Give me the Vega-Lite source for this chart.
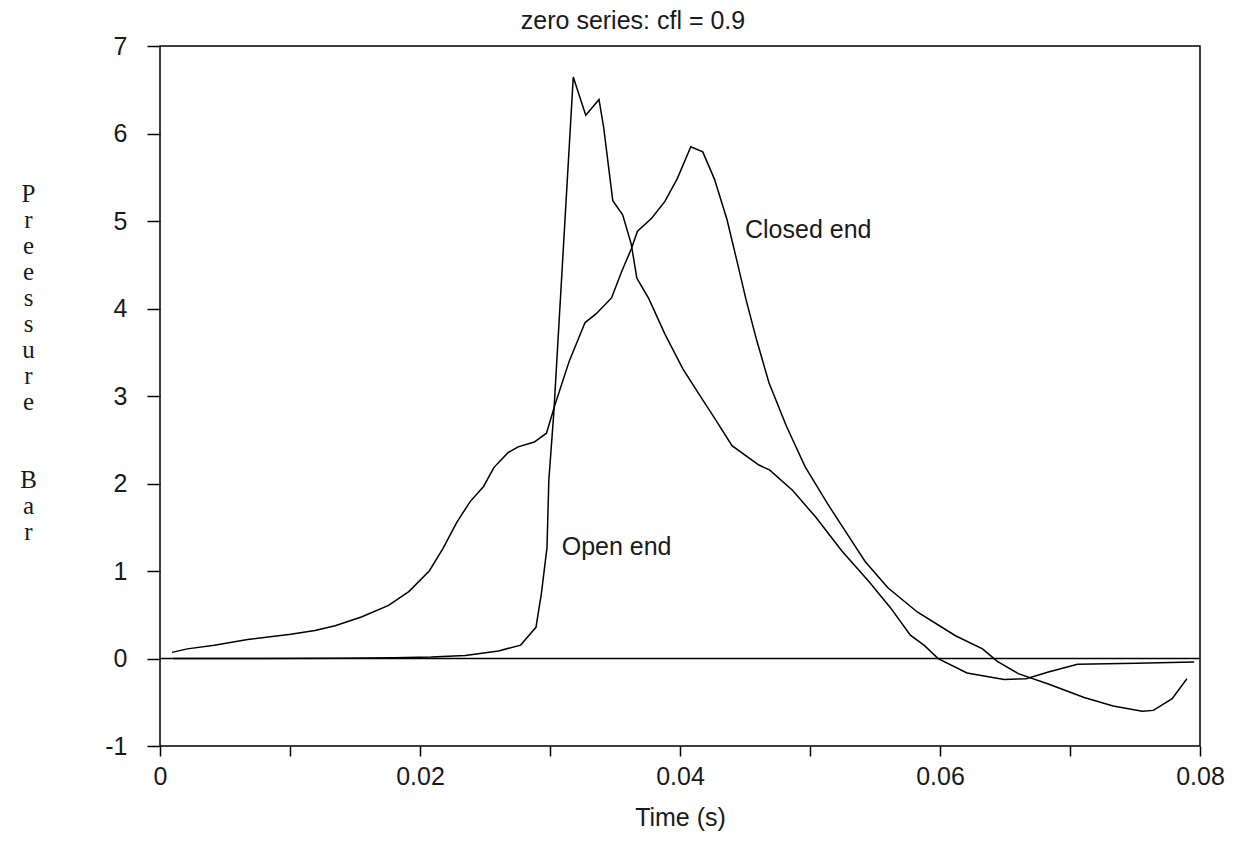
{
  "$schema": "https://vega.github.io/schema/vega-lite/v6.json",
  "width": 1040,
  "height": 700,
  "autosize": {"type": "none"},
  "padding": {"left": 160, "top": 46, "right": 47, "bottom": 97},
  "background": "white",
  "title": {
    "text": "zero series: cfl = 0.9",
    "font": "Liberation Sans",
    "fontSize": 25,
    "fontWeight": "normal",
    "color": "#1a1a1a",
    "anchor": "middle",
    "frame": "group",
    "dx": -47,
    "dy": 24,
    "baseline": "alphabetic",
    "offset": 4
  },
  "config": {
    "view": {"stroke": "black", "strokeWidth": 1.5},
    "font": "Liberation Sans"
  },
  "datasets": {
    "curves": [
      {"series": "Closed end", "t": 0.00093, "v": 0.070},
      {"series": "Closed end", "t": 0.00210, "v": 0.110},
      {"series": "Closed end", "t": 0.00418, "v": 0.152},
      {"series": "Closed end", "t": 0.00674, "v": 0.216},
      {"series": "Closed end", "t": 0.01006, "v": 0.278},
      {"series": "Closed end", "t": 0.01192, "v": 0.320},
      {"series": "Closed end", "t": 0.01347, "v": 0.375},
      {"series": "Closed end", "t": 0.01549, "v": 0.474},
      {"series": "Closed end", "t": 0.01758, "v": 0.607},
      {"series": "Closed end", "t": 0.01914, "v": 0.764},
      {"series": "Closed end", "t": 0.02071, "v": 1.001},
      {"series": "Closed end", "t": 0.02174, "v": 1.251},
      {"series": "Closed end", "t": 0.02284, "v": 1.558},
      {"series": "Closed end", "t": 0.02387, "v": 1.796},
      {"series": "Closed end", "t": 0.02489, "v": 1.966},
      {"series": "Closed end", "t": 0.02568, "v": 2.182},
      {"series": "Closed end", "t": 0.02677, "v": 2.352},
      {"series": "Closed end", "t": 0.02755, "v": 2.419},
      {"series": "Closed end", "t": 0.02879, "v": 2.474},
      {"series": "Closed end", "t": 0.02973, "v": 2.575},
      {"series": "Closed end", "t": 0.03037, "v": 2.894},
      {"series": "Closed end", "t": 0.03150, "v": 3.407},
      {"series": "Closed end", "t": 0.03270, "v": 3.839},
      {"series": "Closed end", "t": 0.03356, "v": 3.941},
      {"series": "Closed end", "t": 0.03473, "v": 4.121},
      {"series": "Closed end", "t": 0.03553, "v": 4.429},
      {"series": "Closed end", "t": 0.03625, "v": 4.679},
      {"series": "Closed end", "t": 0.03673, "v": 4.884},
      {"series": "Closed end", "t": 0.03782, "v": 5.031},
      {"series": "Closed end", "t": 0.03884, "v": 5.224},
      {"series": "Closed end", "t": 0.03979, "v": 5.485},
      {"series": "Closed end", "t": 0.04083, "v": 5.849},
      {"series": "Closed end", "t": 0.04175, "v": 5.790},
      {"series": "Closed end", "t": 0.04265, "v": 5.479},
      {"series": "Closed end", "t": 0.04361, "v": 5.020},
      {"series": "Closed end", "t": 0.04435, "v": 4.561},
      {"series": "Closed end", "t": 0.04508, "v": 4.101},
      {"series": "Closed end", "t": 0.04589, "v": 3.642},
      {"series": "Closed end", "t": 0.04685, "v": 3.148},
      {"series": "Closed end", "t": 0.04819, "v": 2.654},
      {"series": "Closed end", "t": 0.04962, "v": 2.193},
      {"series": "Closed end", "t": 0.05136, "v": 1.766},
      {"series": "Closed end", "t": 0.05303, "v": 1.385},
      {"series": "Closed end", "t": 0.05424, "v": 1.109},
      {"series": "Closed end", "t": 0.05599, "v": 0.808},
      {"series": "Closed end", "t": 0.05828, "v": 0.529},
      {"series": "Closed end", "t": 0.06119, "v": 0.260},
      {"series": "Closed end", "t": 0.06327, "v": 0.110},
      {"series": "Closed end", "t": 0.06441, "v": -0.032},
      {"series": "Closed end", "t": 0.06602, "v": -0.173},
      {"series": "Closed end", "t": 0.06833, "v": -0.292},
      {"series": "Closed end", "t": 0.07109, "v": -0.446},
      {"series": "Closed end", "t": 0.07332, "v": -0.542},
      {"series": "Closed end", "t": 0.07556, "v": -0.603},
      {"series": "Closed end", "t": 0.07641, "v": -0.593},
      {"series": "Closed end", "t": 0.07786, "v": -0.459},
      {"series": "Closed end", "t": 0.07899, "v": -0.232},
      {"series": "Open end", "t": 0.001, "v": 0.0},
      {"series": "Open end", "t": 0.008, "v": 0.0},
      {"series": "Open end", "t": 0.014, "v": 0.002},
      {"series": "Open end", "t": 0.018, "v": 0.008},
      {"series": "Open end", "t": 0.02086, "v": 0.017},
      {"series": "Open end", "t": 0.02348, "v": 0.035},
      {"series": "Open end", "t": 0.02604, "v": 0.087},
      {"series": "Open end", "t": 0.02774, "v": 0.153},
      {"series": "Open end", "t": 0.02892, "v": 0.356},
      {"series": "Open end", "t": 0.02934, "v": 0.745},
      {"series": "Open end", "t": 0.02977, "v": 1.270},
      {"series": "Open end", "t": 0.02991, "v": 2.037},
      {"series": "Open end", "t": 0.03029, "v": 2.802},
      {"series": "Open end", "t": 0.03179, "v": 6.645},
      {"series": "Open end", "t": 0.03275, "v": 6.208},
      {"series": "Open end", "t": 0.03377, "v": 6.389},
      {"series": "Open end", "t": 0.03413, "v": 6.068},
      {"series": "Open end", "t": 0.03483, "v": 5.231},
      {"series": "Open end", "t": 0.03559, "v": 5.070},
      {"series": "Open end", "t": 0.03625, "v": 4.736},
      {"series": "Open end", "t": 0.03668, "v": 4.347},
      {"series": "Open end", "t": 0.03759, "v": 4.116},
      {"series": "Open end", "t": 0.03886, "v": 3.701},
      {"series": "Open end", "t": 0.04022, "v": 3.310},
      {"series": "Open end", "t": 0.04151, "v": 3.010},
      {"series": "Open end", "t": 0.04272, "v": 2.733},
      {"series": "Open end", "t": 0.04400, "v": 2.433},
      {"series": "Open end", "t": 0.04607, "v": 2.211},
      {"series": "Open end", "t": 0.04691, "v": 2.153},
      {"series": "Open end", "t": 0.04867, "v": 1.920},
      {"series": "Open end", "t": 0.05042, "v": 1.619},
      {"series": "Open end", "t": 0.05247, "v": 1.226},
      {"series": "Open end", "t": 0.05453, "v": 0.879},
      {"series": "Open end", "t": 0.05620, "v": 0.578},
      {"series": "Open end", "t": 0.05772, "v": 0.266},
      {"series": "Open end", "t": 0.05879, "v": 0.150},
      {"series": "Open end", "t": 0.05986, "v": -0.001},
      {"series": "Open end", "t": 0.06208, "v": -0.165},
      {"series": "Open end", "t": 0.06493, "v": -0.239},
      {"series": "Open end", "t": 0.06663, "v": -0.231},
      {"series": "Open end", "t": 0.06834, "v": -0.154},
      {"series": "Open end", "t": 0.07058, "v": -0.067},
      {"series": "Open end", "t": 0.07507, "v": -0.053},
      {"series": "Open end", "t": 0.07955, "v": -0.039}
    ],
    "zero": [{"z": 0}],
    "labels": [
      {"label": "Closed end", "t": 0.0450, "v": 4.90},
      {"label": "Open end", "t": 0.0309, "v": 1.28}
    ]
  },
  "layer": [
    {
      "data": {"name": "zero"},
      "mark": {"type": "rule", "color": "black", "strokeWidth": 1.6},
      "encoding": {
        "y": {"field": "z", "type": "quantitative", "scale": {"domain": [-1, 7], "nice": false}}
      }
    },
    {
      "data": {"name": "curves"},
      "mark": {"type": "line", "color": "black", "strokeWidth": 1.5, "clip": true},
      "encoding": {
        "x": {
          "field": "t",
          "type": "quantitative",
          "scale": {"domain": [0, 0.08], "nice": false, "zero": false},
          "axis": {
            "values": [0, 0.01, 0.02, 0.03, 0.04, 0.05, 0.06, 0.07, 0.08],
            "labelExpr": "round(datum.value * 100) % 2 == 0 ? format(datum.value, '.2~f') : ''",
            "title": "Time (s)",
            "titleFontSize": 25,
            "titleFontWeight": "normal",
            "titleColor": "#1a1a1a",
            "titlePadding": 16,
            "labelFontSize": 25,
            "labelColor": "#1a1a1a",
            "labelPadding": 8,
            "labelOverlap": false,
            "labelFlush": false,
            "tickSize": 10,
            "tickColor": "black",
            "tickWidth": 1.5,
            "domain": false,
            "grid": false
          }
        },
        "y": {
          "field": "v",
          "type": "quantitative",
          "scale": {"domain": [-1, 7], "nice": false},
          "axis": {
            "values": [-1, 0, 1, 2, 3, 4, 5, 6, 7],
            "labelExpr": "'' + datum.value",
            "labelFontSize": 25,
            "labelColor": "#1a1a1a",
            "labelPadding": 20,
            "tickSize": 13,
            "tickColor": "black",
            "tickWidth": 1.5,
            "domain": false,
            "grid": false,
            "title": ["P", "r", "e", "e", "s", "s", "u", "r", "e", "\u200b", "\u200b", "B", "a", "r"],
            "titleFont": "Liberation Serif",
            "titleFontSize": 25,
            "titleFontWeight": "normal",
            "titleColor": "#1a1a1a",
            "titleLineHeight": 26,
            "titleAngle": 0,
            "titleAlign": "center",
            "titleBaseline": "top",
            "titleX": -132,
            "titleY": 135
          }
        },
        "detail": {"field": "series"}
      }
    },
    {
      "data": {"name": "labels"},
      "mark": {"type": "text", "align": "left", "baseline": "middle", "fontSize": 25, "font": "Liberation Sans", "color": "#1a1a1a"},
      "encoding": {
        "x": {"field": "t", "type": "quantitative"},
        "y": {"field": "v", "type": "quantitative"},
        "text": {"field": "label"}
      }
    }
  ]
}
